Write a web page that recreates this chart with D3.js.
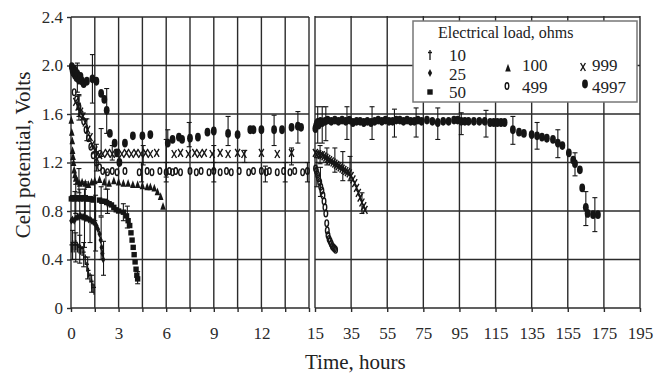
<!DOCTYPE html>
<html>
<head>
<meta charset="utf-8">
<script src="https://cdn.jsdelivr.net/npm/d3@7"></script>
<style>
body {margin: 0; background: #fff;}
svg {display: block;}
svg text {font-family: "Liberation Serif", "Times New Roman", serif;}
</style>
</head>
<body>
<svg id="chart" width="660" height="374"></svg>
<script>
// time in hours, potential in volts
var loads = ['10', '25', '50', '100', '499', '999', '4997'];
var yTicks = [0, 0.4, 0.8, 1.2, 1.6, 2.0, 2.4];
var xGridLeft = [0, 1.5, 3, 4.5, 6, 7.5, 9, 10.5, 12, 13.5, 15];
var xLabelsLeft = [0, 3, 6, 9, 12];
var xTicksRight = [15, 35, 55, 75, 95, 115, 135, 155, 175, 195];

var s10 = [[0.03,0.5],[0.1,0.52],[0.2,0.5],[0.3,0.52],[0.4,0.5],[0.5,0.49],[0.6,0.48],[0.7,0.47],
    [0.8,0.44],[0.9,0.4],[1.0,0.34],[1.1,0.29],[1.2,0.25],[1.3,0.2],[1.38,0.17],[1.45,0.15]];
var s25 = [[0.02,0.72],[0.1,0.73],[0.2,0.72],[0.3,0.74],[0.4,0.75],[0.5,0.75],[0.6,0.76],[0.7,0.75],
    [0.8,0.75],[0.9,0.74],[1.0,0.74],[1.1,0.73],[1.2,0.73],[1.3,0.72],[1.4,0.71],[1.5,0.7],[1.6,0.68],
    [1.7,0.65],[1.8,0.61],[1.87,0.56],[1.93,0.5],[1.98,0.45],[2.03,0.4]];
var s50 = [[0.02,0.9],[0.1,0.91],[0.2,0.9],[0.3,0.91],[0.4,0.9],[0.5,0.91],[0.6,0.9],[0.7,0.91],
    [0.8,0.9],[0.9,0.91],[1.0,0.9],[1.1,0.9],[1.2,0.9],[1.3,0.9],[1.4,0.89],[1.8,0.89],[1.95,0.88],
    [2.1,0.88],[2.25,0.87],[2.4,0.86],[2.55,0.85],[2.7,0.83],[2.85,0.81],[3.0,0.8],[3.3,0.79],
    [3.5,0.76],[3.6,0.72],[3.7,0.68],[3.78,0.62],[3.85,0.56],[3.92,0.5],[3.98,0.44],[4.04,0.38],
    [4.1,0.32],[4.15,0.27],[4.2,0.24]];
var s100 = [[0.02,1.55],[0.05,1.45],[0.08,1.38],[0.1,1.3],[0.13,1.25],[0.16,1.2],[0.2,1.14],
    [0.25,1.1],[0.3,1.07],[0.4,1.05],[0.55,1.03],[0.7,1.04],[0.9,1.03],[1.1,1.02],[1.3,1.04],
    [1.5,1.05],[1.8,1.06],[2.1,1.04],[2.4,1.03],[2.7,1.05],[3.0,1.04],[3.3,1.03],[3.6,1.03],
    [3.9,1.02],[4.2,1.02],[4.5,1.01],[4.8,1.0],[5.0,1.0],[5.25,0.99],[5.45,0.96],[5.65,0.92],[5.8,0.84]];
var s499 = [[0.2,1.78],[0.35,1.72],[0.5,1.66],[0.65,1.6],[0.8,1.54],[0.95,1.47],[1.1,1.4],[1.25,1.33],
    [1.4,1.26],[1.6,1.2],[1.8,1.16],[2.0,1.13],[2.3,1.12],[2.6,1.13],[2.9,1.12],[3.4,1.13],[4.3,1.12],
    [4.8,1.13],[5.1,1.12],[5.6,1.13],[6.0,1.12],[6.2,1.13],[6.4,1.12],[6.6,1.13],[6.9,1.12],[7.5,1.13],
    [7.9,1.12],[8.2,1.13],[8.7,1.12],[9.0,1.13],[9.4,1.12],[9.8,1.13],[10.1,1.12],[10.6,1.13],
    [11.2,1.12],[11.5,1.13],[12.0,1.13],[12.3,1.12],[12.5,1.13],[13.0,1.12],[13.4,1.13],[13.8,1.12],
    [14.1,1.13],[14.6,1.12],[14.9,1.13],
    [15.3,1.15],[15.8,1.13],[16.4,1.1],[17,1.07],[17.6,1.04],[18.2,1.0],[18.8,0.97],[19.4,0.93],
    [20,0.88],[20.5,0.83],[21,0.78],[21.5,0.7],[21.8,0.64],[22.2,0.6],[22.8,0.57],[23.4,0.55],
    [24,0.53],[24.6,0.51],[25.2,0.5],[25.8,0.49],[26.4,0.48]];
var s999 = [[0.3,1.7],[0.45,1.66],[0.6,1.62],[0.75,1.58],[0.9,1.53],[1.05,1.47],[1.2,1.41],[1.35,1.35],
    [1.5,1.3],[1.65,1.27],[1.8,1.26],[2.0,1.27],[2.3,1.28],[2.6,1.27],[2.9,1.28],[3.2,1.27],[3.5,1.28],
    [3.8,1.27],[4.1,1.28],[4.4,1.27],[4.7,1.28],[5.0,1.27],[5.4,1.28],[6.5,1.27],[6.9,1.28],[7.4,1.27],
    [7.8,1.28],[8.1,1.27],[8.4,1.28],[8.9,1.27],[9.4,1.28],[9.9,1.27],[10.5,1.28],[10.9,1.27],
    [12.0,1.28],[13.0,1.27],[13.9,1.28],
    [15.2,1.28],[16,1.27],[17,1.27],[18,1.26],[19,1.26],[20,1.25],[21,1.24],[22,1.23],[23,1.22],
    [24,1.21],[25,1.2],[26,1.19],[27,1.18],[28,1.17],[29,1.16],[30,1.15],[31,1.14],[32,1.13],
    [33,1.12],[34,1.11],[35,1.09],[36,1.06],[37,1.03],[38,0.99],[39,0.95],[40,0.91],[41,0.87],
    [42,0.84],[42.7,0.81]];
var s4997 = [[0.05,1.99],[0.1,1.96],[0.15,1.94],[0.2,1.97],[0.25,1.92],[0.3,1.95],[0.35,1.9],[0.4,1.93],
    [0.5,1.88],[0.6,1.91],[0.7,1.87],[0.8,1.85],[1.0,1.87],[1.35,1.89],[1.6,1.87],[1.9,1.77],[2.1,1.72],
    [2.25,1.63],[2.45,1.44],[2.75,1.36],[2.9,1.28],[3.05,1.2],[3.4,1.36],[3.9,1.42],[4.5,1.42],[5.0,1.43],
    [6.1,1.36],[6.4,1.39],[6.8,1.41],[7.0,1.39],[7.5,1.4],[8.0,1.41],[8.6,1.45],[9.0,1.46],[9.9,1.44],
    [10.5,1.43],[11.3,1.47],[11.5,1.47],[12.0,1.47],[12.8,1.47],[13.3,1.47],[13.9,1.49],[14.3,1.5],[14.5,1.49],
    [15.2,1.48],[15.6,1.5],[16,1.52],[16.5,1.53],[17,1.51],[17.5,1.53],[18,1.54],[19,1.53],[20.5,1.54],
    [22,1.55],[24,1.54],[26,1.55],[28,1.54],[30,1.55],[32,1.54],[34,1.55],[36,1.53],[38,1.54],[40,1.54],
    [42,1.53],[44,1.54],[46,1.53],[48,1.54],[50,1.55],[52,1.54],[54,1.55],[56,1.54],[58,1.54],[60,1.55],
    [62,1.55],[64,1.54],[66,1.55],[68,1.54],[70,1.54],[72,1.55],[74,1.54],[77,1.55],[80,1.54],[83,1.53],
    [86,1.54],[89,1.54],[92,1.55],[94,1.55],[96,1.54],[98,1.54],[100,1.54],[103,1.54],[106,1.54],
    [109,1.54],[112,1.53],[114,1.53],[116,1.53],[118,1.53],[120,1.53],[124.6,1.47],[128,1.45],
    [130.7,1.44],[135,1.43],[138,1.42],[140.7,1.41],[143.4,1.4],[146.8,1.39],[149.5,1.36],[152,1.34],
    [155.6,1.28],[158,1.22],[159,1.19],[161.7,1.14],[163,0.99],[165,0.83],[166,0.78],[169,0.77],[171.7,0.77]];

// error bars: [time, low, high]
var e10 = [[0.1,0.4,0.64],[0.3,0.38,0.62],[0.55,0.37,0.6],[0.8,0.34,0.54],[1.05,0.24,0.42],[1.3,0.13,0.27]];
var e25 = [[0.25,0.52,0.96],[0.55,0.5,0.98],[0.85,0.5,0.98],[1.2,0.54,0.92],[1.55,0.47,0.93],[1.9,0.4,0.75],[2.05,0.27,0.55]];
var e50 = [[0.3,0.78,1.02],[0.9,0.76,1.04],[1.5,0.72,1.04],[1.9,0.76,1.0],[2.3,0.78,0.98],[3.3,0.72,0.86],[3.55,0.66,0.84],[4.2,0.2,0.3]];
var e100 = [[0.5,0.95,1.15],[2.2,0.98,1.12]];
var e499 = [[0.5,1.58,1.76],[1.0,1.38,1.56],[4.45,1.04,1.2],[6.0,1.04,1.2],[9.0,1.04,1.2],[12.25,1.04,1.17],
    [13.5,1.04,1.2],[14.9,1.04,1.2],[16,1.0,1.24],[18,0.92,1.16]];
var e999 = [[0.5,1.55,1.75],[1.6,1.13,1.35],[1.9,1.25,1.48],[2.6,1.22,1.34],[4.55,1.18,1.34],[6.0,1.08,1.39],
    [9.0,1.14,1.34],[10.95,1.2,1.3],[13.9,1.18,1.32],[17.8,1.19,1.34],[21.6,1.18,1.32],[26,1.12,1.32],
    [30.4,1.05,1.29],[34.4,1.05,1.25],[41,0.78,0.95]];
var e4997 = [[0.4,1.78,2.02],[1.35,1.69,2.09],[2.25,1.44,1.81],[6.1,1.36,1.47],[7.45,1.33,1.53],[9.9,1.34,1.58],
    [12.8,1.34,1.59],[14.3,1.36,1.62],[16.5,1.36,1.66],[19,1.36,1.66],[21,1.38,1.66],[32.7,1.39,1.66],
    [46.6,1.39,1.66],[59,1.41,1.64],[71,1.41,1.65],[83,1.39,1.65],[96,1.43,1.61],[109.7,1.41,1.63],
    [124.6,1.35,1.58],[138,1.31,1.53],[149.5,1.24,1.47],[159,1.09,1.28],[165,0.68,0.96],[170,0.63,0.91]];

var series = {'10': s10, '25': s25, '50': s50, '100': s100, '499': s499, '999': s999, '4997': s4997};
var errors = {'10': e10, '25': e25, '50': e50, '100': e100, '499': e499, '999': e999, '4997': e4997};

var svg = d3.select('#chart'),
    ink = '#151515',
    serif = '"Liberation Serif", "Times New Roman", serif';

var xL = d3.scaleLinear().domain([0, 15]).range([71, 309]),
    xR = d3.scaleLinear().domain([15, 195]).range([315, 640]),
    y = d3.scaleLinear().domain([0, 2.4]).range([308, 17]);

function x(t) { return t < 15 ? xL(t) : xR(t); }

// grid
var grid = svg.append('g').attr('stroke', '#2b2b2b').attr('stroke-width', 1.4);
yTicks.forEach(function (v) {
    grid.append('line').attr('x1', xL(0)).attr('x2', xL(15)).attr('y1', y(v)).attr('y2', y(v));
    grid.append('line').attr('x1', xR(15)).attr('x2', xR(195)).attr('y1', y(v)).attr('y2', y(v));
});
xGridLeft.forEach(function (t) {
    grid.append('line').attr('x1', xL(t)).attr('x2', xL(t)).attr('y1', y(0)).attr('y2', y(2.4));
});
xTicksRight.forEach(function (t) {
    grid.append('line').attr('x1', xR(t)).attr('x2', xR(t)).attr('y1', y(0)).attr('y2', y(2.4) - 1);
});

// axes
function styleAxis(g) {
    g.attr('font-family', serif).attr('font-size', 17);
    g.select('.domain').remove();
    g.selectAll('.tick line').attr('stroke', '#2b2b2b').attr('stroke-width', 1.4);
    g.selectAll('.tick text').attr('fill', '#2a2a2a');
}

svg.append('g')
    .attr('transform', 'translate(' + xL(0) + ',0)')
    .call(d3.axisLeft(y).tickValues(yTicks).tickSize(4).tickPadding(4)
        .tickFormat(function (d) { return d === 0 ? '0' : d3.format('.1f')(d); }))
    .call(styleAxis);

svg.append('g')
    .attr('transform', 'translate(0,' + y(0) + ')')
    .call(d3.axisBottom(xL).tickValues(xGridLeft).tickSize(4).tickPadding(15)
        .tickFormat(function (d) { return xLabelsLeft.indexOf(d) >= 0 ? d : ''; }))
    .call(styleAxis);

svg.append('g')
    .attr('transform', 'translate(0,' + y(0) + ')')
    .call(d3.axisBottom(xR).tickValues(xTicksRight).tickSize(4).tickPadding(15))
    .call(styleAxis);

svg.append('text')
    .attr('transform', 'translate(30,155) rotate(-90)')
    .attr('text-anchor', 'middle')
    .attr('fill', '#222')
    .attr('font-size', 21)
    .text('Cell potential, Volts');

svg.append('text')
    .attr('x', 305).attr('y', 369)
    .attr('fill', '#222')
    .attr('font-size', 21)
    .text('Time, hours');

// markers
function marker(g, load) {
    switch (load) {
    case '10':
        return g.append('path').attr('d', 'M0,-5V5M-2,-2.5H2').attr('fill', 'none')
            .attr('stroke', ink).attr('stroke-width', 1.3);
    case '25':
        return g.append('path').attr('d', 'M0,-4L2.1,0L0,4L-2.1,0Z').attr('fill', ink);
    case '50':
        return g.append('rect').attr('x', -2.7).attr('y', -2.7).attr('width', 5.4).attr('height', 5.4).attr('fill', ink);
    case '100':
        return g.append('path').attr('d', 'M0,-4.2L2.8,3.6L-2.8,3.6Z').attr('fill', ink);
    case '499':
        return g.append('ellipse').attr('rx', 1.8).attr('ry', 3.3).attr('fill', 'none')
            .attr('stroke', ink).attr('stroke-width', 1.4);
    case '999':
        return g.append('path').attr('d', 'M-2.4,-4L2.4,4M2.4,-4L-2.4,4').attr('fill', 'none')
            .attr('stroke', ink).attr('stroke-width', 1.4);
    default:
        return g.append('ellipse').attr('rx', 2.9).attr('ry', 4.4).attr('fill', ink);
    }
}

var plot = svg.append('g');
loads.forEach(function (load) {
    var eg = plot.append('g').attr('stroke', ink).attr('stroke-width', 1.1);
    errors[load].forEach(function (e) {
        var cx = x(e[0]);
        eg.append('line').attr('x1', cx).attr('x2', cx).attr('y1', y(e[1])).attr('y2', y(e[2]));
        eg.append('line').attr('x1', cx - 2.5).attr('x2', cx + 2.5).attr('y1', y(e[1])).attr('y2', y(e[1]));
        eg.append('line').attr('x1', cx - 2.5).attr('x2', cx + 2.5).attr('y1', y(e[2])).attr('y2', y(e[2]));
    });
    var pts = plot.append('g').selectAll('g').data(series[load]).enter()
        .append('g')
        .attr('transform', function (d) { return 'translate(' + x(d[0]) + ',' + y(d[1]) + ')'; });
    pts.each(function () { marker(d3.select(this), load); });
});

// legend
var legend = svg.append('g');
legend.append('rect').attr('x', 413).attr('y', 21).attr('width', 224).attr('height', 81)
    .attr('fill', '#fff').attr('stroke', '#777').attr('stroke-width', 1.5);
legend.append('text').attr('x', 438).attr('y', 38).attr('fill', '#222')
    .attr('font-size', 16).text('Electrical load, ohms');

var legendPos = [
    {load: '10', mx: 430, my: 55, tx: 449, ty: 61},
    {load: '25', mx: 430, my: 73, tx: 449, ty: 80},
    {load: '50', mx: 430, my: 92, tx: 449, ty: 98},
    {load: '100', mx: 508, my: 68, tx: 522, ty: 71},
    {load: '499', mx: 507, my: 86, tx: 522, ty: 93},
    {load: '999', mx: 583, my: 67, tx: 592, ty: 71},
    {load: '4997', mx: 585, my: 84, tx: 592, ty: 93}
];
legendPos.forEach(function (p) {
    marker(legend.append('g').attr('transform', 'translate(' + p.mx + ',' + p.my + ')'), p.load);
    legend.append('text').attr('x', p.tx).attr('y', p.ty)
        .attr('fill', '#222').attr('font-size', 17).text(p.load);
});
</script>
</body>
</html>
